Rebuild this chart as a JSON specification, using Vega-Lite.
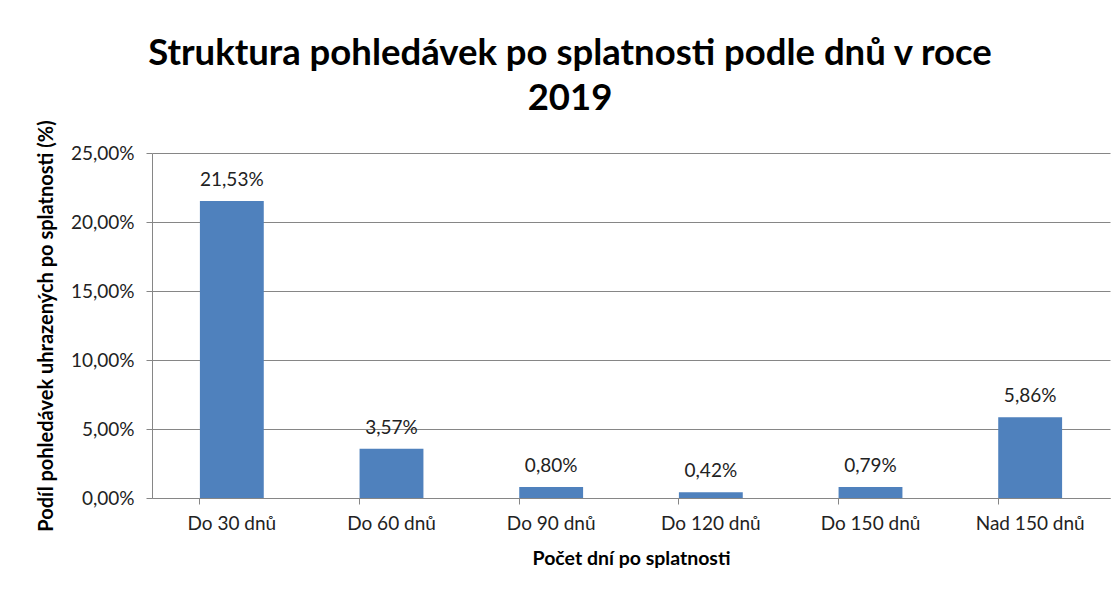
{
  "$schema": "https://vega.github.io/schema/vega-lite/v6.json",
  "width": 958,
  "height": 345,
  "autosize": {"type": "none"},
  "padding": {"left": 152, "top": 153, "right": 10, "bottom": 93},
  "background": "white",
  "config": {
    "locale": {"number": {"decimal": ",", "thousands": " ", "grouping": [3], "currency": ["", " Kč"]}},
    "font": "Lato",
    "view": {"stroke": null}
  },
  "title": {
    "text": ["Struktura pohledávek po splatnosti podle dnů v roce", "2019"],
    "font": "Lato",
    "fontSize": 36.5,
    "fontWeight": "bold",
    "color": "#000000",
    "anchor": "middle",
    "dx": -61,
    "offset": 2,
    "lineHeight": 45
  },
  "data": {
    "values": [
      {"kategorie": "Do 30 dnů", "podil": 0.2153},
      {"kategorie": "Do 60 dnů", "podil": 0.0357},
      {"kategorie": "Do 90 dnů", "podil": 0.0080},
      {"kategorie": "Do 120 dnů", "podil": 0.0042},
      {"kategorie": "Do 150 dnů", "podil": 0.0079},
      {"kategorie": "Nad 150 dnů", "podil": 0.0586}
    ]
  },
  "encoding": {
    "x": {
      "field": "kategorie",
      "type": "nominal",
      "sort": null,
      "scale": {"paddingInner": 0.6, "paddingOuter": 0.3},
      "axis": {
        "title": "Počet dní po splatnosti",
        "titleFont": "Lato",
        "titleFontSize": 19.5,
        "titleFontWeight": "bold",
        "titleColor": "#000000",
        "titlePadding": 16,
        "labelAngle": 0,
        "labelFont": "Lato",
        "labelFontSize": 19,
        "labelColor": "#222222",
        "labelPadding": 10,
        "domainColor": "#868686",
        "tickColor": "#868686",
        "tickSize": 6,
        "bandPosition": 0,
        "grid": false
      }
    },
    "y": {
      "field": "podil",
      "type": "quantitative",
      "scale": {"domain": [0, 0.25], "nice": false},
      "axis": {
        "values": [0, 0.05, 0.1, 0.15, 0.2, 0.25],
        "format": ".2%",
        "title": "Podíl pohledávek uhrazených po splatnosti (%)",
        "titleFont": "Lato",
        "titleFontSize": 20,
        "titleFontWeight": "bold",
        "titleColor": "#000000",
        "titlePadding": 14,
        "labelFont": "Lato",
        "labelFontSize": 19,
        "labelColor": "#222222",
        "labelPadding": 12,
        "domainColor": "#868686",
        "tickColor": "#868686",
        "tickSize": 6,
        "gridColor": "#868686",
        "gridWidth": 1
      }
    }
  },
  "layer": [
    {"mark": {"type": "bar", "color": "#4F81BD"}},
    {
      "mark": {"type": "text", "baseline": "bottom", "dy": -11, "font": "Lato", "fontSize": 19, "color": "#222222"},
      "encoding": {"text": {"field": "podil", "type": "quantitative", "format": ".2%"}}
    }
  ]
}
